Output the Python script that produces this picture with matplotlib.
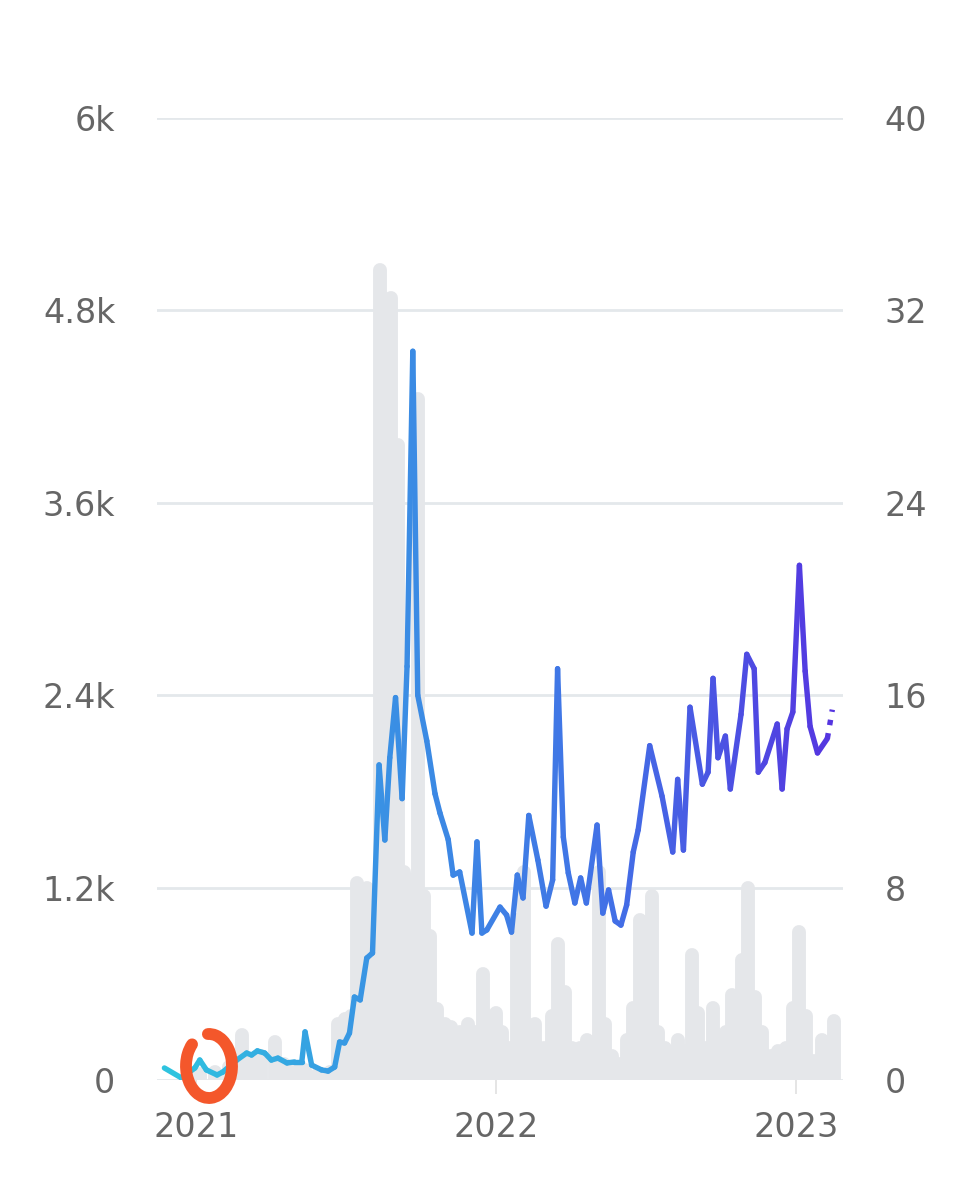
import numpy as np
import matplotlib
matplotlib.use("Agg")
import matplotlib.pyplot as plt
import matplotlib.dates as mdates
from matplotlib.collections import LineCollection
from matplotlib.patches import Arc
from matplotlib.colors import LinearSegmentedColormap

# line series (right axis, 0-40)
line_dates = ["2020-11-24", "2020-12-15", "2020-12-31", "2021-01-06", "2021-01-14",
              "2021-01-27", "2021-02-03", "2021-02-20", "2021-03-04", "2021-03-10",
              "2021-03-17", "2021-03-26", "2021-04-03", "2021-04-11", "2021-04-22",
              "2021-05-01", "2021-05-10", "2021-05-14", "2021-05-22", "2021-06-03",
              "2021-06-11", "2021-06-19", "2021-06-25", "2021-07-01", "2021-07-07",
              "2021-07-13", "2021-07-20", "2021-07-28", "2021-08-04", "2021-08-12",
              "2021-08-19", "2021-08-25", "2021-09-01", "2021-09-09", "2021-09-15",
              "2021-09-22", "2021-09-28", "2021-10-09", "2021-10-19", "2021-10-25",
              "2021-11-04", "2021-11-10", "2021-11-18", "2021-12-03", "2021-12-09",
              "2021-12-15", "2021-12-21", "2022-01-06", "2022-01-14", "2022-01-20",
              "2022-01-27", "2022-02-03", "2022-02-10", "2022-02-21", "2022-03-03",
              "2022-03-11", "2022-03-17", "2022-03-24", "2022-03-30", "2022-04-07",
              "2022-04-14", "2022-04-21", "2022-05-04", "2022-05-11", "2022-05-18",
              "2022-05-26", "2022-06-02", "2022-06-09", "2022-06-17", "2022-06-23",
              "2022-07-07", "2022-07-22", "2022-08-04", "2022-08-10", "2022-08-17",
              "2022-08-25", "2022-09-09", "2022-09-16", "2022-09-22", "2022-09-28",
              "2022-10-07", "2022-10-13", "2022-10-26", "2022-11-02", "2022-11-11",
              "2022-11-16", "2022-11-24", "2022-12-09", "2022-12-15", "2022-12-21",
              "2022-12-28", "2023-01-05", "2023-01-12", "2023-01-18", "2023-01-27",
              "2023-02-08", "2023-02-14"]
line_vals = [0.5, 0.08, 0.5, 0.83, 0.42,
             0.21, 0.33, 0.83, 1.12, 1.04,
             1.21, 1.12, 0.83, 0.91, 0.71,
             0.75, 0.75, 2.0, 0.62, 0.42,
             0.37, 0.54, 1.58, 1.54, 1.95,
             3.45, 3.33, 5.07, 5.28, 13.1,
             9.98, 13.4, 15.9, 11.7, 17.2,
             30.3, 16.0, 14.1, 11.9, 11.1,
             10.0, 8.52, 8.65, 6.11, 9.9,
             6.11, 6.24, 7.19, 6.86, 6.15,
             8.52, 7.57, 11.0, 9.15, 7.23,
             8.32, 17.1, 10.1, 8.61, 7.36,
             8.4, 7.36, 10.6, 6.94, 7.9,
             6.61, 6.44, 7.28, 9.48, 10.4,
             13.9, 11.8, 9.48, 12.5, 9.56,
             15.5, 12.3, 12.8, 16.7, 13.4,
             14.3, 12.1, 15.2, 17.7, 17.1,
             12.8, 13.2, 14.8, 12.1, 14.6,
             15.3, 21.4, 17.0, 14.7, 13.6,
             14.2, 15.4]

# gray bars (left axis, thousands)
bar_dates = ["2021-01-06", "2021-01-24", "2021-02-11", "2021-02-26", "2021-03-08",
             "2021-03-22", "2021-04-07", "2021-04-19", "2021-05-01", "2021-05-14",
             "2021-05-29", "2021-06-13", "2021-06-23", "2021-07-01", "2021-07-09",
             "2021-07-16", "2021-07-22", "2021-07-28", "2021-08-04", "2021-08-13",
             "2021-08-20", "2021-08-26", "2021-09-04", "2021-09-11", "2021-09-18",
             "2021-09-28", "2021-10-05", "2021-10-13", "2021-10-21", "2021-10-31",
             "2021-11-08", "2021-11-18", "2021-11-28", "2021-12-08", "2021-12-16",
             "2021-12-25", "2022-01-01", "2022-01-09", "2022-01-18", "2022-01-27",
             "2022-02-04", "2022-02-17", "2022-03-01", "2022-03-10", "2022-03-17",
             "2022-03-26", "2022-04-03", "2022-04-13", "2022-04-22", "2022-04-29",
             "2022-05-06", "2022-05-14", "2022-05-22", "2022-06-01", "2022-06-09",
             "2022-06-17", "2022-06-25", "2022-07-02", "2022-07-10", "2022-07-17",
             "2022-07-26", "2022-08-03", "2022-08-10", "2022-08-19", "2022-08-27",
             "2022-09-04", "2022-09-12", "2022-09-22", "2022-09-30", "2022-10-08",
             "2022-10-15", "2022-10-22", "2022-10-27", "2022-11-04", "2022-11-12",
             "2022-11-21", "2022-12-01", "2022-12-10", "2022-12-20", "2022-12-28",
             "2023-01-05", "2023-01-13", "2023-01-23", "2023-02-02", "2023-02-08",
             "2023-02-16"]
bar_vals = [0.04, 0.05, 0.08, 0.28, 0.12,
            0.15, 0.24, 0.10, 0.08, 0.06,
            0.03, 0.05, 0.35, 0.38, 0.40,
            1.23, 0.45, 1.20, 0.60, 5.05,
            3.96, 4.88, 3.96, 1.30, 1.25,
            4.25, 1.15, 0.90, 0.44, 0.35,
            0.33, 0.30, 0.35, 0.30, 0.66,
            0.35, 0.42, 0.30, 0.20, 1.00,
            1.30, 0.35, 0.20, 0.40, 0.85,
            0.55, 0.20, 0.20, 0.25, 0.20,
            1.30, 0.35, 0.15, 0.10, 0.25,
            0.45, 1.00, 0.40, 1.15, 0.30,
            0.20, 0.12, 0.25, 0.18, 0.78,
            0.42, 0.20, 0.45, 0.25, 0.30,
            0.53, 0.40, 0.75, 1.20, 0.52,
            0.30, 0.15, 0.18, 0.20, 0.45,
            0.92, 0.40, 0.12, 0.25, 0.15,
            0.37]

left_ticks = [0, 1200, 2400, 3600, 4800, 6000]
left_labels = ["0", "1.2k", "2.4k", "3.6k", "4.8k", "6k"]
right_ticks = [0, 8, 16, 24, 32, 40]
year_ticks = ["2021-01-01", "2022-01-01", "2023-01-01"]
year_labels = ["2021", "2022", "2023"]

plt.rcParams['font.family'] = ['DejaVu Sans']
text_col = '#666666'
grid_col = '#e4e8eb'
bar_col = '#e5e7ea'

fig = plt.figure(figsize=(9.73, 12), dpi=100)
ax = fig.add_axes([157 / 973, 0.1, 686 / 973, 962 / 1200])
ax2 = ax.twinx()

bx = mdates.date2num(np.array(bar_dates, dtype='datetime64[D]'))
ax.vlines(bx, 0, np.array(bar_vals) * 1000, colors=bar_col, linewidth=10,
          capstyle='round', zorder=2)

ax.set_ylim(0, 6000)
ax.set_yticks(left_ticks)
ax.set_yticklabels(left_labels)
ax.grid(axis='y', color=grid_col, linewidth=2)
ax.set_axisbelow(True)

# gradient line
lx = mdates.date2num(np.array(line_dates, dtype='datetime64[D]'))
ly = np.array(line_vals)
cmap = LinearSegmentedColormap.from_list('g', ['#2ec3df', '#3a8fe4', '#4270e6', '#5535e0'])
pts = np.column_stack([lx, ly]).reshape(-1, 1, 2)
segs = np.concatenate([pts[:-1], pts[1:]], axis=1)
t = (lx[:-1] - lx.min()) / (lx.max() - lx.min())
lc = LineCollection(segs[:-1], colors=cmap(t[:-1]), linewidth=3.9,
                    capstyle='round', joinstyle='round', zorder=3)
ax2.add_collection(lc)
ax2.plot(lx[-2:], ly[-2:], color=cmap(1.0), linewidth=3.9, linestyle=(0, (1, 1.5)), zorder=3)
ax2.set_ylim(0, 40)
ax2.set_yticks(right_ticks)

xmin = mdates.date2num(np.datetime64("2020-11-15"))
xmax = mdates.date2num(np.datetime64("2023-02-27"))
ax.set_xlim(xmin, xmax)
ax.set_xticks(mdates.date2num(np.array(year_ticks, dtype='datetime64[D]')))
ax.set_xticklabels(year_labels)

for a in (ax, ax2):
    for s in a.spines.values():
        s.set_visible(False)
ax.tick_params(axis='y', length=0, pad=30, labelsize=24, labelcolor=text_col)
ax2.tick_params(axis='y', length=0, pad=30, labelsize=24, labelcolor=text_col)
ax.tick_params(axis='x', length=10, width=1.2, color='#e0e0e0', pad=12,
               labelsize=24, labelcolor=text_col)

# hand-drawn red circle
arc = Arc((209, 1200 - 1066), 46, 64, theta1=128, theta2=452, color='#f4572b',
          linewidth=8.5, capstyle='round', transform=None, zorder=10)
fig.add_artist(arc)

fig.savefig("out.png", dpi=100)
